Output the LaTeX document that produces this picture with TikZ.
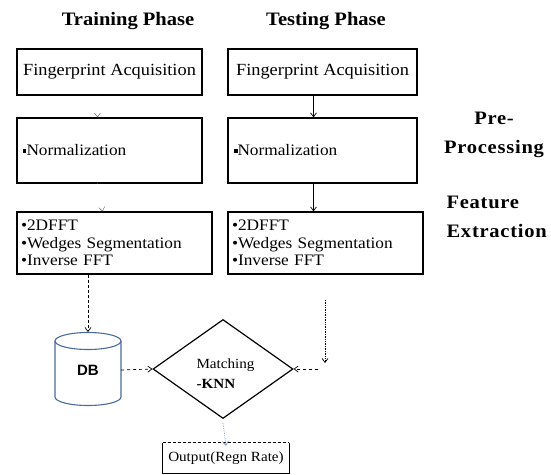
\documentclass[tikz,border=0pt]{standalone}
\usepackage{fontspec}
\setmainfont{Liberation Serif}[FakeStretch=1.08]
\newfontfamily\dbfont{Liberation Sans}
\usetikzlibrary{arrows.meta,shapes.geometric}
\definecolor{dbblue}{HTML}{4A6A9C}
\definecolor{arrblue}{HTML}{6A95D6}
\begin{document}
\begin{tikzpicture}[x=1pt,y=1pt,
  box/.style={draw=black, line width=1.2pt, inner sep=0pt},
  ttl/.style={font=\fontsize{19}{22}\selectfont\bfseries},
  side/.style={font=\fontsize{19}{29}\selectfont\bfseries\addfontfeatures{LetterSpace=4}},
  tip/.style={-{Straight Barb[length=4pt,width=6pt]}},
  ghost/.style={draw=white, -{Straight Barb[length=4pt,width=6pt,color=black!70]}},
]
\useasboundingbox (0,0) rectangle (551,-474);

% titles
\node[ttl] (t1) at (128,-21) {Training Phase};
\node[ttl] (t2) at (326,-21) {Testing Phase};

% acquisition boxes
\node[box, minimum width=185, minimum height=46, font=\fontsize{17}{20}\selectfont] (fa1) at (109.5,-72) {Fingerprint Acquisition};
\node[box, minimum width=189, minimum height=46, font=\fontsize{17}{20}\selectfont] (fa2) at (322.5,-72) {Fingerprint Acquisition};

% normalization boxes
\node[box, minimum width=185, minimum height=65, text width=173, inner xsep=6pt, align=left, font=\fontsize{16}{19}\selectfont] (n1) at (109.5,-150.5) {\raisebox{3pt}{\rule{3.5pt}{3.5pt}}Normalization};
\node[box, minimum width=189, minimum height=65, text width=177, inner xsep=6pt, align=left, font=\fontsize{16}{19}\selectfont] (n2) at (322.5,-150.5) {\raisebox{3pt}{\rule{3.5pt}{3.5pt}}Normalization};

% feature extraction boxes
\node[box, minimum width=195, minimum height=62, text width=187, inner xsep=4pt, align=left, font=\fontsize{16}{17.7}\selectfont] (fe1) at (114.5,-243) {\textbullet 2DFFT\\\textbullet Wedges Segmentation\\\textbullet Inverse FFT};
\node[box, minimum width=195, minimum height=62, text width=187, inner xsep=4pt, align=left, font=\fontsize{16}{17.7}\selectfont] (fe2) at (325.5,-243) {\textbullet 2DFFT\\\textbullet Wedges Segmentation\\\textbullet Inverse FFT};

% side labels
\node[side, align=center] (pp) at (494,-135) {Pre-\\Processing};
\node[side, align=left, anchor=west] (fx) at (443,-217) {Feature\\Extraction};

% DB cylinder
\node[minimum width=66, minimum height=73, inner sep=0pt, font=\dbfont\fontsize{15}{18}\selectfont\bfseries] (db) at (88,-370) {\raisebox{-4pt}{DB}};
\draw[dbblue, line width=1.1pt] (88,-341) ellipse (33 and 8.5);
\draw[dbblue, line width=1.1pt] (55,-341) -- (55,-397) arc (180:360:33 and 8.5) -- (121,-341);

% matching diamond
\node[diamond, draw=black, line width=1.2pt, minimum width=140, minimum height=99, inner sep=0pt] (match) at (223,-369) {};
\node[align=left, anchor=west, font=\fontsize{14}{20}\selectfont] (mtext) at (193,-374) {Matching\\\textbf{-KNN}};

% output box
\node[minimum width=126, minimum height=30, inner sep=0pt, font=\fontsize{14}{17}\selectfont] (out) at (226,-458) {Output(Regn Rate)};
\draw[line width=1.2pt] (out.north west) -- (out.south west) -- (out.south east) -- (out.north east);
\draw[line width=1.2pt, densely dashed] (out.north west) -- (out.north east);

% connectors
\draw[ghost] ([xshift=-12]fa1.south) -- ([xshift=-12]n1.north);
\draw[ghost] ([xshift=-12]n1.south) -- ([xshift=-12]fe1.north);
\draw[tip, line width=0.7pt] ([xshift=-9]fa2.south) -- ([xshift=-9]n2.north);
\draw[tip, line width=0.7pt] ([xshift=-9]n2.south) -- ([xshift=-9]n2.south |- fe2.north);
\draw[tip, line width=0.7pt, densely dashed] (db.north |- fe1.south) -- (88,-332);
\draw[tip, line width=0.7pt, dashed] (db.east) -- (match.west);
\coordinate (r1) at (325,-300);
\coordinate (r2) at (325,-363);
\coordinate (r3) at (318,-369);
\draw[tip, line width=0.7pt, densely dotted] (r1) -- (r2);
\draw[tip, line width=0.7pt, dashed] (r3) -- (match.east);
\draw[tip, arrblue, line width=0.7pt, densely dotted] ([yshift=-4]match.south) -- ([yshift=-3]out.north);
\end{tikzpicture}
\end{document}
